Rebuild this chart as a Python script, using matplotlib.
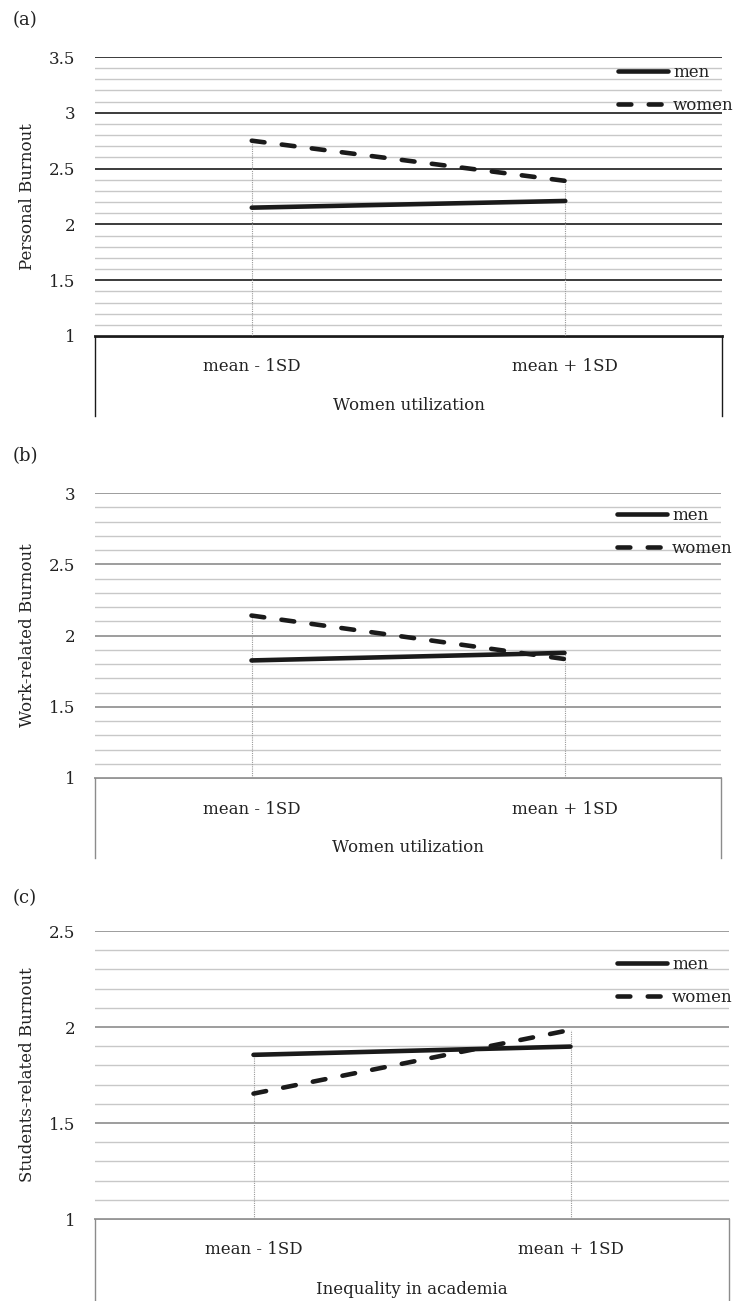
import matplotlib
matplotlib.use('Agg')
import numpy as np
import matplotlib.pyplot as plt
from matplotlib.lines import Line2D

# ── Data ─────────────────────────────────────────────────────────────────────
CATEGORIES = ["mean - 1SD", "mean + 1SD"]

MEN_A = [2.15, 2.21]
WOMEN_A = [2.75, 2.39]

MEN_B = [1.825, 1.878]
WOMEN_B = [2.14, 1.835]

MEN_C = [1.855, 1.898]
WOMEN_C = [1.653, 1.985]

PANELS = [
    # tag, y label, x title, men, women, ymax
    ("(a)", "Personal Burnout", "Women utilization", MEN_A, WOMEN_A, 3.5),
    ("(b)", "Work-related Burnout", "Women utilization", MEN_B, WOMEN_B, 3.0),
    ("(c)", "Students-related Burnout", "Inequality in academia", MEN_C, WOMEN_C, 2.5),
]

# ── Layout in pixels (figure is 742 x 1301) ─────────────────────────────────
W, H = 742, 1301
LAYOUT = [
    # left, right, top, axis(y=1), box bottom, tag y, legend centre y, legend x
    (95, 722, 57, 336, 416, 20, 89, 618),
    (95, 721, 493, 778, 858, 456, 532, 617),
    (95, 729, 931, 1219, 1301, 898, 981, 617),
]
MAJOR_COLORS = ["#1a1a1a", "#8c8c8c", "#8c8c8c"]
AXIS_COLORS = ["#1a1a1a", "#8c8c8c", "#8c8c8c"]
AXIS_LW = [2.0, 1.3, 1.3]
TEXT = "#222222"
LINE = "#1a1a1a"
LW = 3.3
DASH = (0, (2.8, 3.8))
FONT = "DejaVu Serif"
FS = 12

plt.rcParams['font.family'] = FONT
plt.rcParams['text.color'] = TEXT


def px_rect(left, right, top, bottom):
    return [left / W, 1 - bottom / H, (right - left) / W, (bottom - top) / H]


fig = plt.figure(figsize=(W / 100, H / 100), dpi=100)

for (tag, ylab, xtitle, men, women, ymax), lay, mcol, acol, alw in zip(
        PANELS, LAYOUT, MAJOR_COLORS, AXIS_COLORS, AXIS_LW):
    left, right, top, y1, bot, tag_y, leg_y, leg_x = lay
    x = np.arange(len(CATEGORIES))

    # box below the plot area holding the category labels
    box = fig.add_axes(px_rect(left, right, y1, bot))
    box.set_xlim(-0.5, 1.5)
    box.set_ylim(0, 1)
    box.set_xticks([])
    box.set_yticks([])
    box.spines["bottom"].set_visible(False)
    for s in ("left", "right"):
        box.spines[s].set_color(acol)
        box.spines[s].set_linewidth(1.0)
    box.spines["top"].set_color(acol)
    box.spines["top"].set_linewidth(alw)
    for xi, cat in zip(x, CATEGORIES):
        box.text(xi, 1 - 31 / (bot - y1), cat, ha="center", va="center",
                 fontsize=FS, color=TEXT)
    box.text(0.5, 1 - 70 / (bot - y1), xtitle, ha="center", va="center",
             fontsize=FS, color=TEXT)

    ax = fig.add_axes(px_rect(left, right, top, y1))
    ax.set_xlim(-0.5, 1.5)
    ax.set_ylim(1, ymax)
    for s in ax.spines.values():
        s.set_visible(False)
    ax.set_yticks(np.arange(1, ymax + 0.01, 0.5))
    ax.set_yticks(np.arange(1, ymax + 0.01, 0.1), minor=True)
    ax.set_yticklabels([f"{v:g}" for v in np.arange(1, ymax + 0.01, 0.5)])
    ax.tick_params(axis="y", which="both", length=0, pad=14, labelsize=FS,
                   labelcolor=TEXT)
    ax.set_xticks([])
    ax.grid(which="minor", axis="y", color="#c8c8c8", linewidth=1.0)
    ax.grid(which="major", axis="y", color=mcol, linewidth=1.2)
    ax.set_axisbelow(True)

    # drop lines from the higher point to the axis
    ax.vlines(x, 1, np.maximum(men, women), colors="#9a9a9a",
              linewidth=0.8, linestyles=(0, (1, 1)), zorder=2)

    ax.plot(x, men, color=LINE, linewidth=LW, solid_capstyle="round",
            zorder=3, label="men")
    ax.plot(x, women, color=LINE, linewidth=LW, linestyle=DASH,
            dash_capstyle="round", zorder=3, label="women")

    handles = [
        Line2D([], [], color=LINE, linewidth=LW, solid_capstyle="round"),
        Line2D([], [], color=LINE, linewidth=LW, linestyle=DASH,
               dash_capstyle="round"),
    ]
    ax.legend(handles, ["men", "women"], loc="center left",
              bbox_to_anchor=((leg_x - left) / (right - left),
                              (y1 - leg_y) / (y1 - top)),
              frameon=False, fontsize=FS, handlelength=3.0,
              handletextpad=0.3, labelspacing=0.95, borderpad=0,
              borderaxespad=0)

    fig.text(28 / W, 1 - (top + y1) / 2 / H, ylab, rotation=90,
             ha="center", va="center", fontsize=FS, color=TEXT)
    fig.text(13 / W, 1 - tag_y / H, tag, ha="left", va="center",
             fontsize=FS + 1, color=TEXT)

fig.savefig("out.png", dpi=100)
